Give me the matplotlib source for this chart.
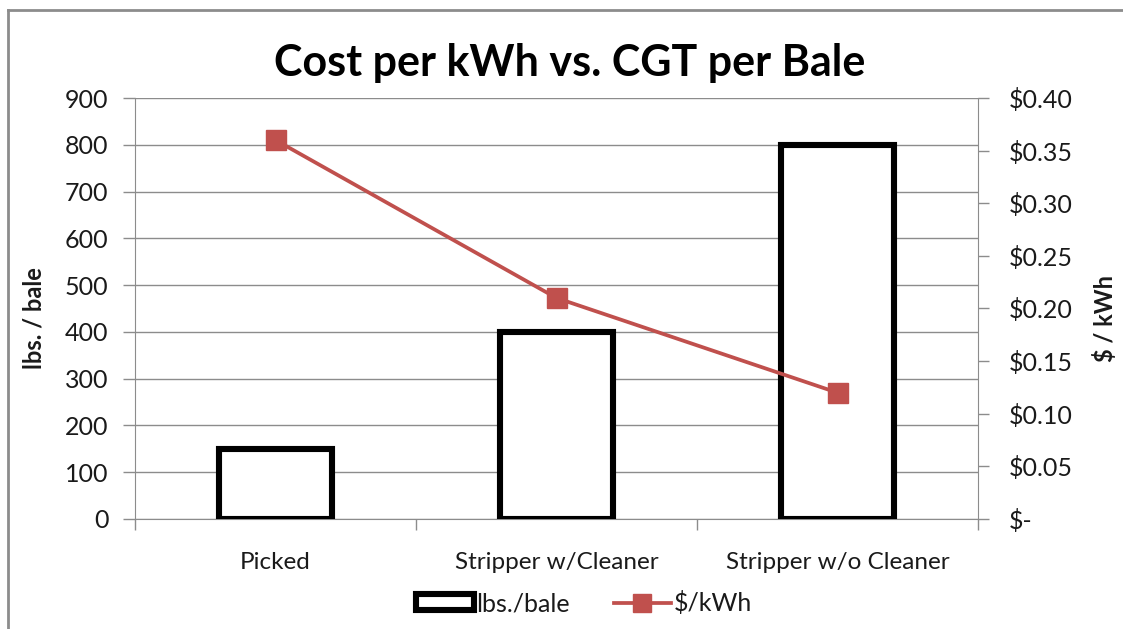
import matplotlib.pyplot as plt
from matplotlib.lines import Line2D
from matplotlib.patches import Rectangle
from matplotlib.ticker import FuncFormatter, MultipleLocator
import numpy as np

plt.rcParams['font.family'] = ['Lato', 'DejaVu Sans']

categories = ['Picked', 'Stripper w/Cleaner', 'Stripper w/o Cleaner']
lbs_per_bale = [150, 400, 800]
cost_per_kwh = [0.36, 0.21, 0.12]

RED = '#C0504D'
GRID = '#8c8c8c'
TXT = '#1a1a1a'

fig = plt.figure(figsize=(11.23, 6.29), dpi=100)
ax = fig.add_axes([135 / 1123, 1 - 519 / 629, (978 - 135) / 1123, (519 - 98) / 629])
ax2 = ax.twinx()

x = np.arange(len(categories))
ax.bar(x, lbs_per_bale, width=0.4, facecolor='white', edgecolor='black',
       linewidth=4.4, zorder=3)
ax.set_xlim(-0.5, 2.5)
ax.set_ylim(0, 900)
ax.yaxis.set_major_locator(MultipleLocator(100))
ax.grid(axis='y', color=GRID, linewidth=1, zorder=0)
ax.set_axisbelow(True)

ax2.plot(x, cost_per_kwh, color=RED, linewidth=2.7, marker='s', markersize=14,
         zorder=4)
ax2.set_ylim(0, 0.40)
ax2.yaxis.set_major_locator(MultipleLocator(0.05))
ax2.yaxis.set_major_formatter(FuncFormatter(
    lambda v, p: '$-' if abs(v) < 1e-9 else f'${v:.2f}'))

# category ticks at boundaries, labels in the middle
ax.set_xticks([-0.5, 0.5, 1.5, 2.5])
ax.set_xticklabels([])
ax.set_xticks(x, minor=True)
ax.set_xticklabels(categories, minor=True)
ax.tick_params(axis='x', which='major', length=8, color=GRID, width=1)
ax.tick_params(axis='x', which='minor', length=0, pad=24, labelsize=17.5,
               labelcolor=TXT)
ax.tick_params(axis='y', length=9, color=GRID, width=1, labelsize=18,
               pad=10, labelcolor=TXT)
ax2.tick_params(axis='y', length=8, color=GRID, width=1, labelsize=18,
                pad=14, labelcolor=TXT)

for a in (ax, ax2):
    for s in a.spines.values():
        s.set_visible(False)
ax.spines['left'].set_visible(True)
ax.spines['left'].set_color(GRID)
ax.spines['bottom'].set_visible(True)
ax.spines['bottom'].set_color(GRID)
ax2.spines['right'].set_visible(True)
ax2.spines['right'].set_color(GRID)

fig.text(34 / 1123, 1 - 318 / 629, 'lbs. / bale', rotation=90, ha='center',
         va='center', fontsize=17, fontweight='bold', color=TXT)
fig.text(1105 / 1123, 1 - 318 / 629, '$ / kWh', rotation=90, ha='center',
         va='center', fontsize=17, fontweight='bold', color=TXT)
fig.text(570 / 1123, 1 - 63 / 629, 'Cost per kWh vs. CGT per Bale',
         ha='center', va='center', fontsize=31, fontweight='bold', color='black')

handles = [
    Rectangle((0, 0), 1, 1, facecolor='white', edgecolor='black', linewidth=4.4),
    Line2D([], [], color=RED, linewidth=2.7, marker='s', markersize=13),
]
fig.legend(handles, ['lbs./bale', '$/kWh'], loc='center',
           bbox_to_anchor=(584 / 1123, 1 - 603 / 629), ncol=2, frameon=False,
           fontsize=18, handlelength=2.3, handleheight=0.6, handletextpad=0.1,
           columnspacing=1.75, labelcolor=TXT)

# chart-area border (top and left edges visible)
fig.add_artist(Line2D([8 / 1123, 1.1], [1 - 10 / 629] * 2, color='#8c8c8c',
                      linewidth=2, transform=fig.transFigure))
fig.add_artist(Line2D([8 / 1123] * 2, [-0.1, 1 - 10 / 629], color='#8c8c8c',
                      linewidth=2, transform=fig.transFigure))

fig.savefig('out.png', dpi=100)
